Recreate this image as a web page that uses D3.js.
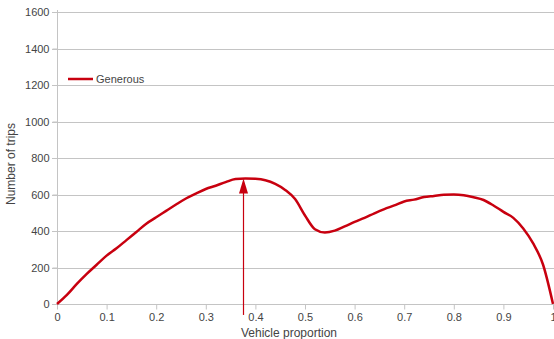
<!DOCTYPE html>
<html>
<head>
<meta charset="utf-8">
<script src="https://cdn.jsdelivr.net/npm/d3@7"></script>
<style>
  html, body { margin: 0; padding: 0; background: #fff; }
  svg { display: block; font-family: "Liberation Sans", Arial, sans-serif; }
</style>
</head>
<body>
<svg id="chart" width="554" height="339"></svg>
<script>
const proportions = [0,0.02,0.04,0.06,0.08,0.10,0.12,0.14,0.16,0.18,0.20,0.22,0.24,0.26,0.28,0.30,0.32,0.34,0.36,0.38,0.40,0.42,0.44,0.46,0.48,0.50,0.52,0.54,0.56,0.58,0.60,0.62,0.64,0.66,0.68,0.70,0.72,0.74,0.76,0.78,0.80,0.82,0.84,0.86,0.88,0.90,0.92,0.94,0.96,0.98,1.00];
const generousTrips = [0,50,110,165,215,265,305,350,395,440,475,510,545,578,605,630,648,668,685,688,686,678,658,625,575,485,410,392,402,425,450,472,497,520,540,562,572,586,592,598,600,596,585,570,540,505,472,414,332,215,0];
const xTicks = [0,0.1,0.2,0.3,0.4,0.5,0.6,0.7,0.8,0.9,1];
const yTicks = [0,200,400,600,800,1000,1200,1400,1600];
const seriesName = "Generous";
const arrowX = 0.375;
const arrowFrom = -60;
const arrowTo = 688;

const svg = d3.select("#chart");
const x = d3.scaleLinear().domain([0, 1]).range([57, 553]);
const y = d3.scaleLinear().domain([0, 1600]).range([304, 12]);
const red = "#c8000f";
const grid = "#c4c4c4";
const textCol = "#444";

// grid lines
svg.append("g").selectAll("line").data(yTicks.filter(d => d > 0)).join("line")
  .attr("x1", 52).attr("x2", 554)
  .attr("y1", d => Math.round(y(d)) + 0.5).attr("y2", d => Math.round(y(d)) + 0.5)
  .attr("stroke", grid).attr("stroke-width", 1);

// y axis
const yAxis = svg.append("g").attr("transform", "translate(57.5,0)")
  .call(d3.axisLeft(y).tickValues(yTicks).tickSize(5).tickPadding(3).tickFormat(d3.format("d")));
yAxis.select(".domain").attr("stroke", grid).attr("d", "M0,10V304.5");
yAxis.selectAll(".tick line").attr("stroke", grid);
yAxis.selectAll("text").attr("fill", textCol).style("font-size", "11px");

// x axis
const xAxis = svg.append("g").attr("transform", "translate(0,304.5)")
  .call(d3.axisBottom(x).tickValues(xTicks).tickSize(5).tickPadding(4).tickFormat(d => d === 0 ? "0" : d === 1 ? "1" : d3.format(".1f")(d)));
xAxis.select(".domain").attr("stroke", grid).attr("d", "M52,0H554");
xAxis.selectAll(".tick line").attr("stroke", grid);
xAxis.selectAll("text").attr("fill", textCol).style("font-size", "11px");

// axis titles
svg.append("text").attr("x", 289).attr("y", 337).attr("text-anchor", "middle")
  .attr("fill", textCol).style("font-size", "12px").text("Vehicle proportion");
svg.append("text").attr("transform", "translate(15,164) rotate(-90)").attr("text-anchor", "middle")
  .attr("fill", textCol).style("font-size", "12px").text("Number of trips");

// series line
const line = d3.line().x((d, i) => x(proportions[i])).y(d => y(d)).curve(d3.curveMonotoneX);
svg.append("path").datum(generousTrips).attr("d", line)
  .attr("fill", "none").attr("stroke", red).attr("stroke-width", 2.5).attr("stroke-linejoin", "round");

// arrow
const ax = Math.round(x(arrowX)) + 0.5;
svg.append("line").attr("x1", ax).attr("x2", ax)
  .attr("y1", y(arrowFrom)).attr("y2", y(arrowTo) + 12)
  .attr("stroke", red).attr("stroke-width", 1.2);
svg.append("path")
  .attr("d", `M${ax},${y(arrowTo)}L${ax - 4.5},${y(arrowTo) + 15}L${ax + 4.5},${y(arrowTo) + 15}Z`)
  .attr("fill", red);

// legend
svg.append("line").attr("x1", 68).attr("x2", 93).attr("y1", 79).attr("y2", 79)
  .attr("stroke", red).attr("stroke-width", 2.5);
svg.append("text").attr("x", 96).attr("y", 83).attr("fill", textCol).style("font-size", "11px").text(seriesName);
</script>
</body>
</html>
